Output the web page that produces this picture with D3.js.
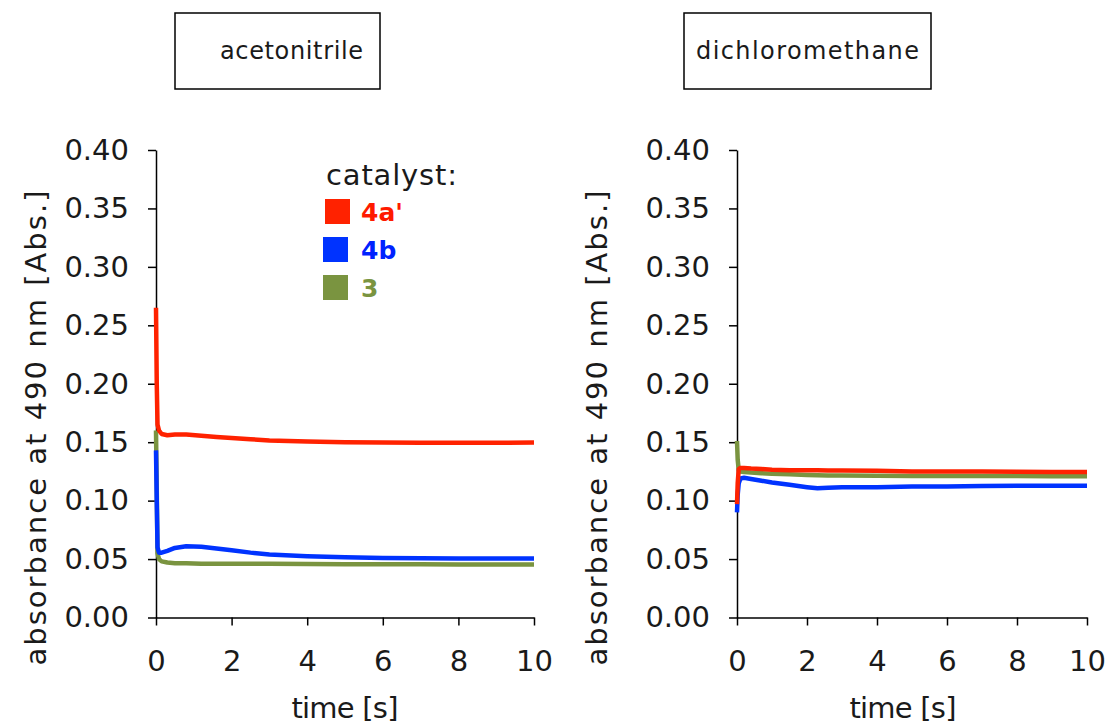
<!DOCTYPE html>
<html>
<head>
<meta charset="utf-8">
<script src="https://cdn.jsdelivr.net/npm/d3@7"></script>
<style>
  body { margin: 0; background: #fff; }
  svg text { font-family: "DejaVu Sans", sans-serif; fill: #1a1a1a; }
  .axis path, .axis line { stroke: #000; stroke-width: 1.5; }
  .series { fill: none; stroke-width: 4.5; stroke-linejoin: round; stroke-linecap: butt; }
</style>
</head>
<body>
<div id="chart"></div>
<script>
// Data
var yTicks = [0, 0.05, 0.10, 0.15, 0.20, 0.25, 0.30, 0.35, 0.40];
var xTicks = [0, 2, 4, 6, 8, 10];
var catalysts = ["4a'", "4b", "3"];

// acetonitrile
var timeAcn = [0, 0.02, 0.04, 0.08, 0.15, 0.3, 0.5, 0.8, 1.2, 1.6, 2, 2.5, 3, 4, 5, 6, 7, 8, 9, 10];
var acn4a = [0.265, 0.200, 0.165, 0.160, 0.157, 0.156, 0.1565, 0.1565, 0.1555, 0.1545, 0.1535, 0.1525, 0.1515, 0.1505, 0.1500, 0.1498, 0.1495, 0.1495, 0.1495, 0.1498];
var acn4b = [0.143, 0.100, 0.060, 0.0555, 0.0555, 0.057, 0.0595, 0.061, 0.0605, 0.059, 0.0575, 0.0555, 0.0540, 0.0525, 0.0515, 0.0510, 0.0508, 0.0505, 0.0504, 0.0504];
var acn3  = [0.160, 0.110, 0.055, 0.050, 0.048, 0.047, 0.0465, 0.0465, 0.046, 0.046, 0.046, 0.046, 0.046, 0.0458, 0.0455, 0.0455, 0.0455, 0.0453, 0.0453, 0.0453];

// dichloromethane
var timeDcm = [0, 0.02, 0.05, 0.1, 0.2, 0.4, 0.7, 1, 1.5, 2, 2.3, 2.6, 3, 4, 5, 6, 7, 8, 9, 10];
var dcm4a = [0.097, 0.115, 0.127, 0.128, 0.128, 0.1275, 0.127, 0.1265, 0.126, 0.126, 0.126, 0.1258, 0.1258, 0.1255, 0.125, 0.125, 0.125, 0.1248, 0.1245, 0.1245];
var dcm4b = [0.090, 0.105, 0.115, 0.119, 0.1195, 0.1185, 0.117, 0.1155, 0.1135, 0.1115, 0.1105, 0.111, 0.1115, 0.1115, 0.112, 0.112, 0.1125, 0.1128, 0.1128, 0.1128];
var dcm3  = [0.151, 0.135, 0.126, 0.125, 0.1245, 0.124, 0.1235, 0.123, 0.1225, 0.122, 0.1218, 0.1216, 0.1215, 0.1213, 0.121, 0.121, 0.121, 0.121, 0.1208, 0.1208];

var colors = {"4a'": "#ff2200", "4b": "#0033ff", "3": "#7a9440"};
var textColors = {"4a'": "#ff1a00", "4b": "#0022ff", "3": "#7a9440"};

var svg = d3.select("#chart")
  .append("svg")
    .attr("width", 1108)
    .attr("height", 728);

var plotTop = 150, height = 467.5;

var panels = [
  {title: "acetonitrile", box: [175, 13, 205, 76], titleLen: 143,
   left: 156, width: 378, yTitleX: 36, xTitleX: 345,
   time: timeAcn, series: {"4a'": acn4a, "4b": acn4b, "3": acn3}, legend: true},
  {title: "dichloromethane", box: [684, 13, 247, 76], titleLen: 223,
   left: 737, width: 350, yTitleX: 597, xTitleX: 903,
   time: timeDcm, series: {"4a'": dcm4a, "4b": dcm4b, "3": dcm3}, legend: false}
];

panels.forEach(function(p) {

  // title box
  svg.append("rect")
    .attr("x", p.box[0]).attr("y", p.box[1])
    .attr("width", p.box[2]).attr("height", p.box[3])
    .attr("fill", "none").attr("stroke", "#000").attr("stroke-width", 1.5);

  svg.append("text")
    .attr("x", p.box[0] + p.box[2] / 2 + (p.legend ? 14 : 0))
    .attr("y", p.box[1] + p.box[3] / 2)
    .attr("dy", "0.35em")
    .attr("text-anchor", "middle")
    .attr("font-size", 24)
    .attr("textLength", p.titleLen)
    .text(p.title);

  var x = d3.scaleLinear().domain([0, 10]).range([0, p.width]);
  var y = d3.scaleLinear().domain([0, 0.40]).range([height, 0]);

  var g = svg.append("g")
    .attr("transform", "translate(" + p.left + "," + plotTop + ")");

  g.append("g")
    .attr("class", "axis axis--x")
    .attr("transform", "translate(0," + height + ")")
    .call(d3.axisBottom(x).tickValues(xTicks).tickSize(8).tickSizeOuter(0).tickPadding(25))
    .selectAll("text")
      .attr("font-size", 29)
      .style("font-family", "DejaVu Sans");

  g.append("g")
    .attr("class", "axis axis--y")
    .call(d3.axisLeft(y).tickValues(yTicks).tickSize(8).tickSizeOuter(0).tickPadding(19)
      .tickFormat(d3.format(".2f")))
    .selectAll("text")
      .attr("font-size", 29)
      .style("font-family", "DejaVu Sans");

  // axis titles
  svg.append("text")
    .attr("transform", "translate(" + p.yTitleX + ",428) rotate(-90)")
    .attr("dy", "0.35em")
    .attr("text-anchor", "middle")
    .attr("font-size", 29)
    .attr("textLength", 475)
    .text("absorbance at 490 nm [Abs.]");

  svg.append("text")
    .attr("x", p.xTitleX)
    .attr("y", 708)
    .attr("dy", "0.35em")
    .attr("text-anchor", "middle")
    .attr("font-size", 29)
    .attr("textLength", 107)
    .text("time [s]");

  var line = d3.line()
    .x(function(d) { return x(d[0]); })
    .y(function(d) { return y(d[1]); });

  // draw green, blue, then red on top
  ["3", "4b", "4a'"].forEach(function(k) {
    var pts = p.time.map(function(t, i) { return [t, p.series[k][i]]; });
    g.append("path")
      .datum(pts)
      .attr("class", "series")
      .attr("stroke", colors[k])
      .attr("d", line);
  });

  if (p.legend) {
    svg.append("text")
      .attr("x", 326)
      .attr("y", 185)
      .attr("font-size", 29)
      .attr("textLength", 131)
      .text("catalyst:");

    var leg = svg.append("g").attr("transform", "translate(323,199)");
    catalysts.forEach(function(k, i) {
      leg.append("rect")
        .attr("x", i === 0 ? 2 : 0)
        .attr("y", i * 38)
        .attr("width", 25)
        .attr("height", 25)
        .attr("fill", colors[k]);
      leg.append("text")
        .attr("x", 38)
        .attr("y", i * 38 + 12.5)
        .attr("dy", "0.36em")
        .attr("font-size", 25)
        .attr("font-weight", "bold")
        .style("fill", textColors[k])
        .text(k);
    });
  }
});
</script>
</body>
</html>
